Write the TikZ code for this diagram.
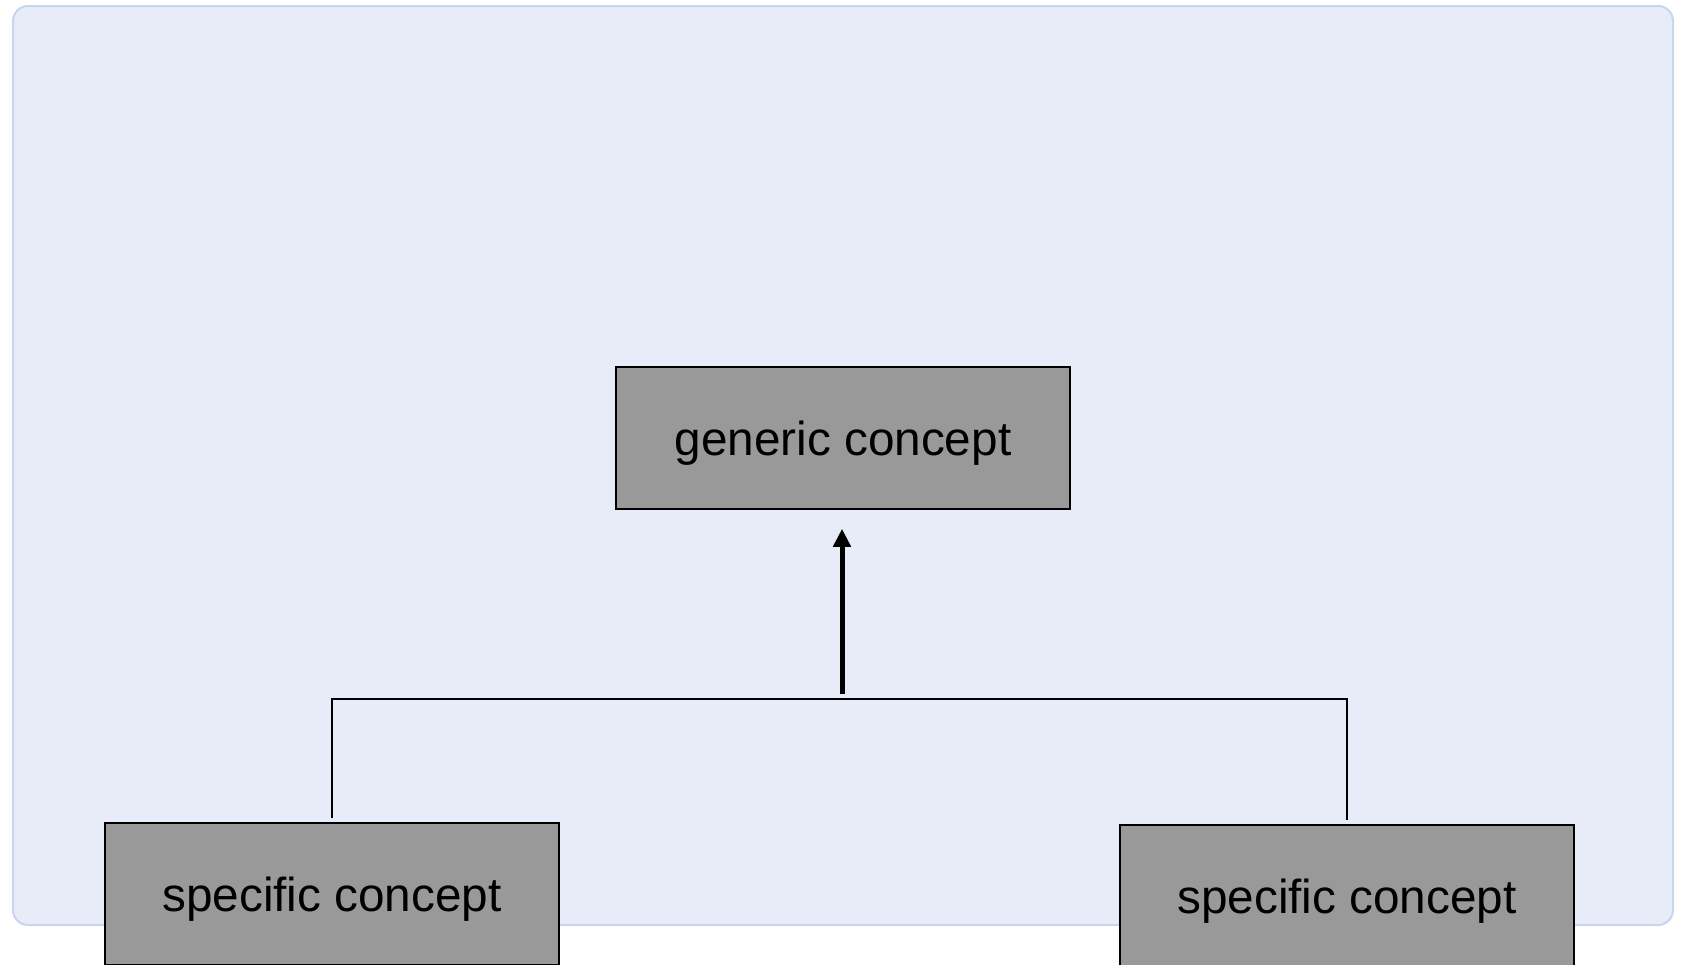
\documentclass[tikz,border=0pt]{standalone}
\usepackage{fontspec}
\setmainfont{Liberation Sans}
\usetikzlibrary{arrows.meta}
\definecolor{panelfill}{RGB}{232,236,248}
\definecolor{panelline}{RGB}{200,212,240}
\definecolor{conceptgray}{RGB}{153,153,153}
\tikzset{
  panel/.style={fill=panelfill, draw=panelline, line width=2pt, rounded corners=15pt},
  concept/.style={rectangle, fill=conceptgray, draw=black, line width=1.5pt,
    minimum width=454pt, minimum height=142pt, inner sep=0pt,
    text height=44pt, text depth=10pt,
    font=\fontsize{47.7}{57}\selectfont, text=black},
  link/.style={draw=black, line width=2pt},
  genarrow/.style={draw=black, line width=5pt, -{Triangle[width=17pt,length=18pt]}}
}
\begin{document}
\begin{tikzpicture}[x=1pt,y=-1pt]
  \clip (0,0) rectangle (1681,964);
  % background panel
  \draw[panel] (13,6) rectangle (1673,925);
  % concepts
  \node[concept] (G) at (843,438) {generic concept};
  \node[concept] (S1) at (332,894) {specific concept};
  \node[concept] (S2) at (1347,896) {specific concept};
  % junction of the tree
  \coordinate (J) at (842,699);
  \coordinate (JL) at (S1.north |- J);
  \coordinate (JR) at (S2.north |- J);
  \draw[link] ([yshift=4pt]S1.north) -- (JL) -- (JR) -- ([yshift=4pt]S2.north);
  % generalisation arrow
  \draw[genarrow, shorten <=5pt, shorten >=19pt] (J) -- (J |- G.south);
\end{tikzpicture}
\end{document}
